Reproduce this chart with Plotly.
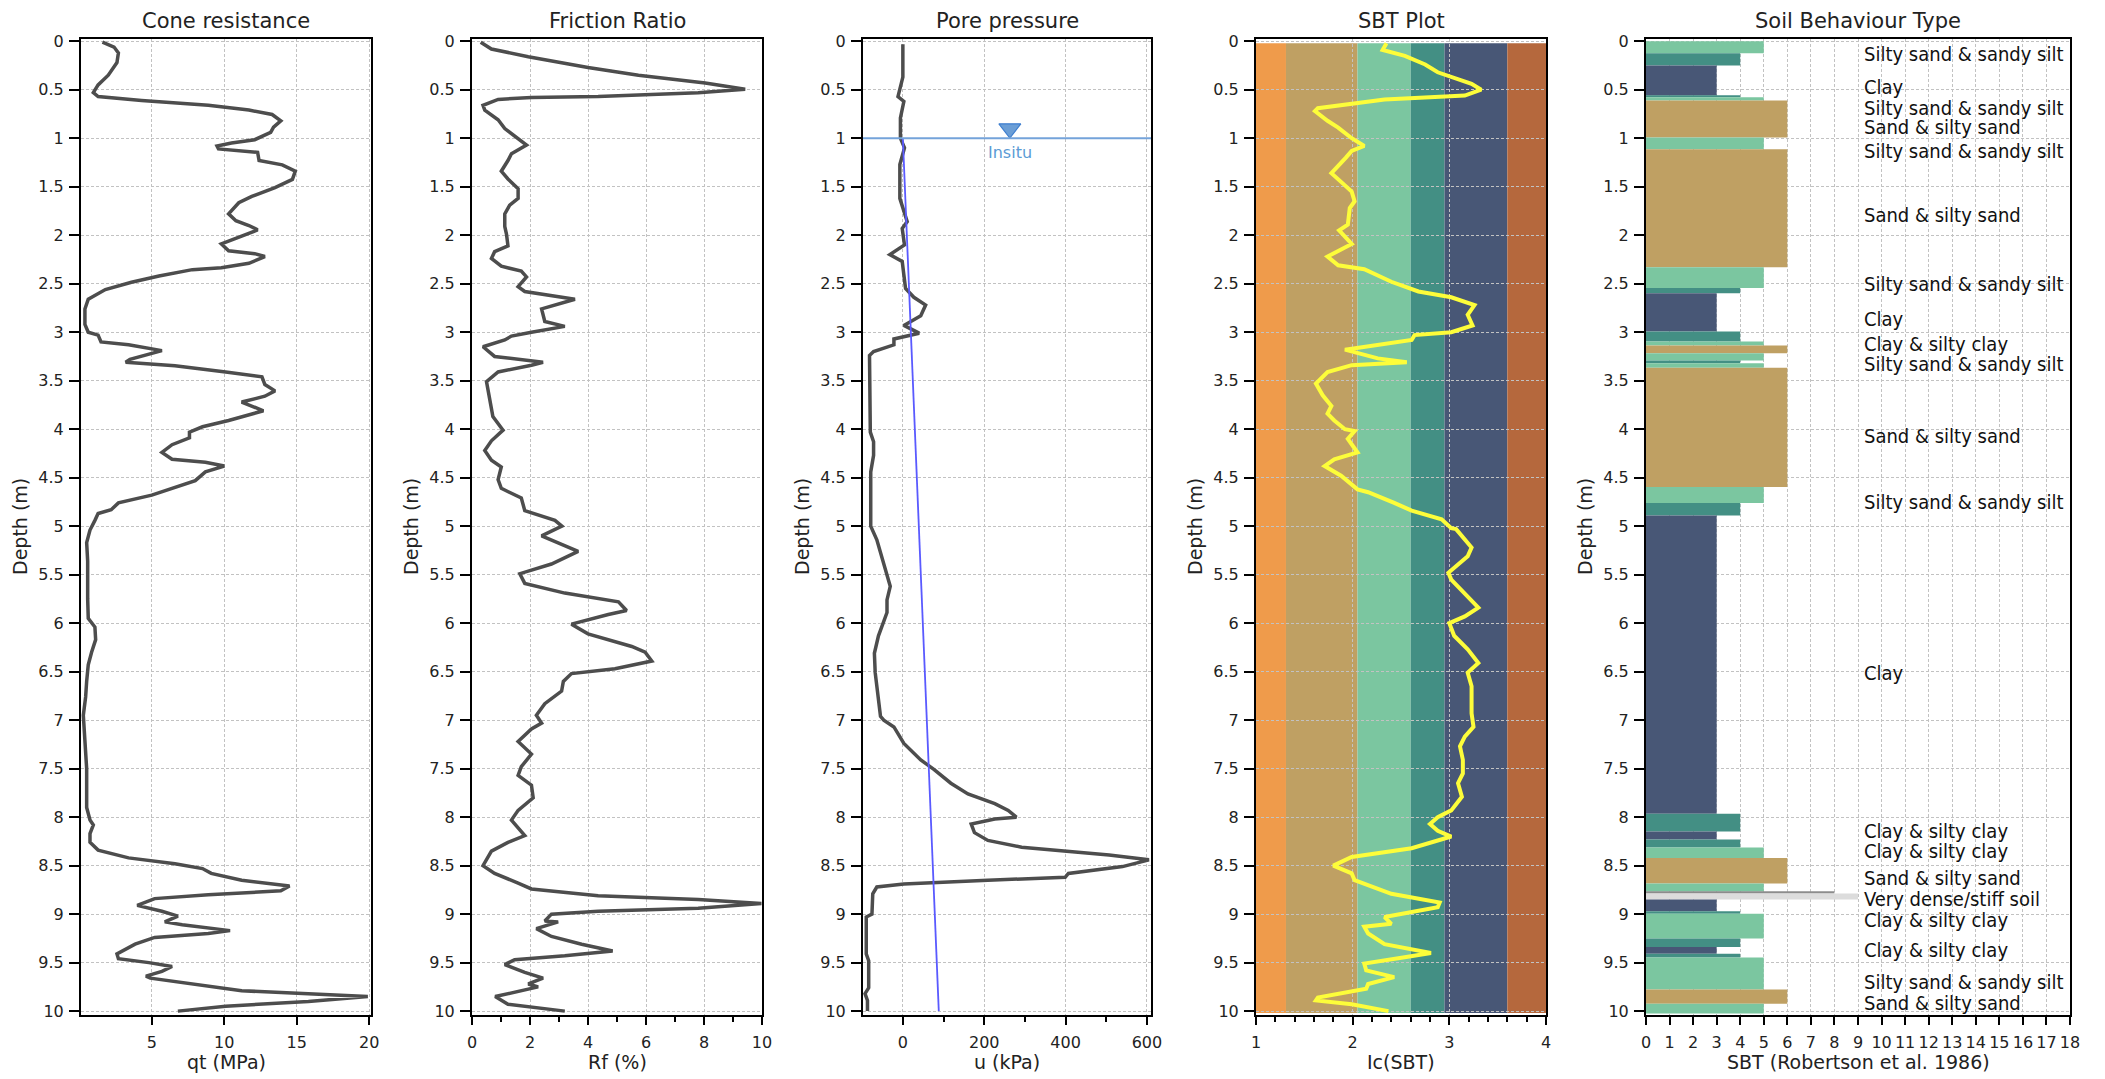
import plotly.graph_objects as go

# ---------------- data ----------------
depth_ticks = [0, 0.5, 1, 1.5, 2, 2.5, 3, 3.5, 4, 4.5, 5, 5.5, 6, 6.5, 7, 7.5, 8, 8.5, 9, 9.5, 10]
depth_tick_text = ["0", "0.5", "1", "1.5", "2", "2.5", "3", "3.5", "4", "4.5", "5", "5.5",
                   "6", "6.5", "7", "7.5", "8", "8.5", "9", "9.5", "10"]

qt_depth = [0.01, 0.06, 0.12, 0.22, 0.35, 0.45, 0.53, 0.57, 0.61, 0.66, 0.71, 0.755, 0.82, 0.885, 0.94,
            1.015, 1.05, 1.08, 1.11, 1.145, 1.23, 1.275, 1.34, 1.425, 1.51, 1.6, 1.665, 1.73, 1.78, 1.85,
            1.9, 1.945, 2.01, 2.09, 2.16, 2.19, 2.22, 2.29, 2.335, 2.355, 2.42, 2.485, 2.56, 2.66, 2.76,
            2.92, 3.0, 3.03, 3.1, 3.13, 3.19, 3.28, 3.31, 3.345, 3.41, 3.46, 3.54, 3.605, 3.66, 3.72,
            3.81, 3.91, 3.975, 4.03, 4.09, 4.16, 4.24, 4.31, 4.34, 4.38, 4.44, 4.53, 4.68, 4.76, 4.83,
            4.87, 4.94, 5.04, 5.17, 5.36, 5.75, 5.95, 6.04, 6.17, 6.3, 6.43, 6.6, 6.76, 6.95, 7.18,
            7.5, 7.9, 8.03, 8.08, 8.17, 8.26, 8.34, 8.42, 8.48, 8.53, 8.58, 8.65, 8.71, 8.76, 8.8,
            8.84, 8.91, 8.97, 9.02, 9.08, 9.11, 9.17, 9.2, 9.24, 9.31, 9.41, 9.46, 9.5, 9.54, 9.59,
            9.64, 9.66, 9.72, 9.79, 9.82, 9.85, 9.9, 9.95, 10.0]
qt_mpa = [1.6, 2.4, 2.7, 2.6, 2.0, 1.3, 0.97, 1.3, 4.3, 8.9, 11.7, 13.3, 13.9, 13.4, 13.2,
          12.1, 10.5, 9.5, 9.6, 12.3, 12.4, 14.0, 14.9, 14.7, 13.5, 11.9, 11.0, 10.6, 10.3, 10.8,
          11.7, 12.3, 11.2, 9.8, 10.3, 12.1, 12.8, 11.7, 9.8, 7.8, 5.5, 3.6, 1.8, 0.62, 0.39,
          0.39, 0.62, 1.3, 1.5, 3.4, 5.7, 3.5, 3.2, 6.6, 10.1, 12.6, 12.8, 13.5, 12.8, 11.2,
          12.7, 10.3, 8.5, 7.6, 7.6, 6.4, 5.7, 6.4, 8.7, 10.0, 8.7, 8.0, 5.0, 2.7, 2.2,
          1.3, 1.08, 0.74, 0.51, 0.58, 0.58, 0.62, 1.08, 1.13, 0.85, 0.62, 0.51, 0.44, 0.28, 0.39,
          0.51, 0.51, 0.74, 0.97, 0.74, 0.74, 1.3, 3.4, 6.6, 8.5, 9.1, 11.2, 14.5, 13.9, 8.9,
          5.2, 4.0, 5.7, 6.8, 5.9, 7.1, 10.4, 8.9, 5.2, 3.85, 2.6, 2.7, 4.8, 6.4, 5.7,
          4.6, 4.9, 7.8, 11.2, 15.8, 19.9, 15.8, 10.1, 6.8]

rf_depth = [0.01, 0.08, 0.16, 0.21, 0.27, 0.35, 0.43, 0.495, 0.53, 0.57, 0.58, 0.6, 0.66, 0.71, 0.81,
            0.9, 1.0, 1.07, 1.16, 1.23, 1.34, 1.42, 1.52, 1.62, 1.69, 1.78, 1.91, 1.99, 2.11, 2.17,
            2.24, 2.32, 2.37, 2.43, 2.53, 2.58, 2.66, 2.76, 2.89, 2.94, 3.0, 3.04, 3.08, 3.15, 3.25,
            3.29, 3.31, 3.34, 3.41, 3.51, 3.67, 3.87, 4.01, 4.12, 4.22, 4.32, 4.39, 4.52, 4.61, 4.71,
            4.84, 4.94, 5.0, 5.1, 5.26, 5.39, 5.49, 5.59, 5.69, 5.78, 5.87, 5.91, 6.01, 6.11, 6.24,
            6.3, 6.39, 6.47, 6.52, 6.6, 6.7, 6.83, 6.95, 7.03, 7.09, 7.22, 7.35, 7.48, 7.57, 7.67,
            7.8, 7.93, 8.03, 8.19, 8.26, 8.35, 8.5, 8.58, 8.68, 8.74, 8.81, 8.85, 8.89, 8.94, 8.97,
            9.0, 9.07, 9.08, 9.15, 9.23, 9.31, 9.38, 9.43, 9.47, 9.52, 9.6, 9.66, 9.72, 9.75, 9.8,
            9.85, 9.93, 10.0]
rf_pct = [0.3, 0.67, 1.94, 2.86, 4.0, 5.74, 8.04, 9.42, 7.8, 4.35, 2.05, 0.9, 0.38, 0.44, 0.9,
          1.13, 1.59, 1.88, 1.36, 1.24, 1.01, 1.24, 1.59, 1.59, 1.3, 1.13, 1.13, 1.19, 1.24, 0.78,
          0.67, 1.01, 1.7, 1.88, 1.59, 1.82, 3.55, 2.4, 2.51, 3.2, 2.05, 1.36, 1.13, 0.38, 0.78,
          1.82, 2.45, 2.05, 0.9, 0.5, 0.61, 0.72, 1.07, 0.67, 0.44, 0.67, 1.01, 0.9, 1.01, 1.7,
          1.82, 2.86, 3.1, 2.4, 3.66, 2.74, 1.65, 1.82, 3.2, 5.05, 5.33, 4.7, 3.43, 4.0, 5.51,
          5.97, 6.2, 4.93, 3.43, 3.15, 3.09, 2.51, 2.22, 2.4, 2.05, 1.59, 2.05, 1.7, 1.59, 2.05,
          2.11, 1.59, 1.36, 1.82, 1.24, 0.67, 0.38, 0.78, 1.59, 2.05, 4.35, 7.8, 9.98, 7.8, 4.35,
          2.74, 2.51, 2.97, 2.22, 2.74, 3.78, 4.85, 3.2, 1.47, 1.13, 1.82, 2.45, 1.94, 2.28, 1.47,
          0.8, 1.24, 3.2]

u2_depth = [0.03, 0.37, 0.57, 0.62, 0.79, 1.0, 1.1, 1.27, 1.62, 1.86, 1.93, 2.1, 2.2, 2.27, 2.41,
            2.55, 2.64, 2.72, 2.83, 2.93, 3.01, 3.07, 3.13, 3.2, 3.24, 3.69, 4.03, 4.13, 4.27, 4.44,
            5.0, 5.14, 5.34, 5.62, 5.76, 5.89, 6.13, 6.31, 6.51, 6.79, 6.96, 7.0, 7.07, 7.24, 7.41,
            7.51, 7.65, 7.76, 7.86, 7.93, 8.0, 8.02, 8.07, 8.16, 8.24, 8.31, 8.34, 8.39, 8.44, 8.51,
            8.58, 8.62, 8.65, 8.69, 8.72, 8.79, 9.0, 9.03, 9.41, 9.48, 9.76, 9.82, 9.89, 10.0]
u2_kpa = [0, 0, -12, 2.5, -6, -6, 4, -7.4, -7.4, 10.7, -1.6, 4, -32, -1.6, 2.5,
          6.6, 27, 56, 44, 2.5, 40, -22, -22, -72, -82, -82, -80, -72, -72, -79,
          -79, -64, -51, -31, -39, -39, -60, -70, -68, -60, -55, -47, -22, 2.5, 44,
          77, 118, 160, 226, 259, 279, 226, 168, 176, 209, 292, 374, 507, 605, 540,
          407, 399, 209, 2.5, -64, -74, -76, -90, -90, -84, -84, -93, -87, -87]

hydro_depth = [1.0, 10.0]
hydro_u0 = [0.0, 88.3]
water_depth = 1.0
water_marker_u = 263
water_label = "Insitu"

ic_depth = [0.02, 0.09, 0.15, 0.24, 0.32, 0.38, 0.44, 0.5, 0.56, 0.6, 0.69, 0.72, 0.82, 0.89, 1.0,
            1.08, 1.13, 1.2, 1.36, 1.45, 1.55, 1.65, 1.72, 1.89, 1.95, 2.09, 2.22, 2.31, 2.35, 2.48,
            2.58, 2.64, 2.72, 2.82, 2.93, 3.0, 3.03, 3.08, 3.18, 3.27, 3.31, 3.34, 3.41, 3.53, 3.65,
            3.76, 3.84, 3.91, 4.0, 4.02, 4.1, 4.24, 4.31, 4.38, 4.48, 4.62, 4.65, 4.76, 4.84, 4.93,
            5.02, 5.03, 5.22, 5.31, 5.48, 5.55, 5.72, 5.84, 5.93, 6.0, 6.13, 6.27, 6.41, 6.51, 6.65,
            6.93, 7.07, 7.17, 7.27, 7.41, 7.55, 7.65, 7.79, 7.93, 8.0, 8.07, 8.14, 8.2, 8.32, 8.41,
            8.5, 8.58, 8.65, 8.79, 8.88, 8.93, 9.03, 9.1, 9.13, 9.2, 9.31, 9.4, 9.44, 9.51, 9.58,
            9.65, 9.72, 9.77, 9.86, 9.89, 9.93, 10.0]
ic_values = [2.35, 2.31, 2.54, 2.75, 2.88, 3.06, 3.23, 3.33, 3.16, 2.33, 1.64, 1.61, 1.74, 1.85, 1.99,
             2.12, 1.99, 1.93, 1.78, 1.88, 1.99, 2.02, 1.97, 1.95, 1.86, 1.99, 1.74, 1.85, 2.12, 2.4,
             2.68, 3.02, 3.26, 3.19, 3.24, 3.02, 2.64, 2.61, 1.92, 2.26, 2.56, 1.99, 1.74, 1.62, 1.69,
             1.78, 1.74, 1.81, 1.92, 2.02, 1.95, 2.05, 1.81, 1.71, 1.88, 2.05, 2.16, 2.43, 2.61, 2.92,
             3.02, 3.07, 3.23, 3.19, 2.99, 3.02, 3.19, 3.3, 3.16, 3.0, 3.05, 3.19, 3.3, 3.19, 3.23,
             3.23, 3.25, 3.16, 3.11, 3.14, 3.14, 3.09, 3.13, 3.02, 2.88, 2.8, 2.88, 3.02, 2.61, 1.99,
             1.8, 1.99, 2.02, 2.4, 2.9, 2.88, 2.33, 2.4, 2.12, 2.16, 2.33, 2.81, 2.57, 2.12, 2.14,
             2.43, 2.16, 2.14, 1.64, 1.62, 1.99, 2.37]

# Robertson SBT zone boundaries on Ic and their colours
ic_bounds = [1.0, 1.31, 2.05, 2.60, 2.95, 3.60, 4.0]
ic_band_colors = ["#EF9B4B", "#BFA063", "#7BC6A0", "#438F84", "#485776", "#B5683D"]
band_top, band_bottom = 0.02, 10.02

# Soil behaviour type layers (Robertson et al. 1986 zones)
layer_top = [0.000, 0.124, 0.250, 0.560, 0.577, 0.610, 0.993, 1.113, 2.330, 2.543, 2.598, 2.993, 3.095,
             3.137, 3.216, 3.292, 3.319, 3.367, 4.597, 4.762, 4.889, 7.965, 8.147, 8.230, 8.312, 8.422,
             8.683, 8.766, 8.786, 8.848, 8.971, 8.996, 9.250, 9.339, 9.408, 9.446, 9.776, 9.924]
layer_bottom = [0.124, 0.250, 0.560, 0.577, 0.610, 0.993, 1.113, 2.330, 2.543, 2.598, 2.993, 3.095, 3.137,
                3.216, 3.292, 3.319, 3.367, 4.597, 4.762, 4.889, 7.965, 8.147, 8.230, 8.312, 8.422, 8.683,
                8.766, 8.786, 8.848, 8.971, 8.996, 9.250, 9.339, 9.408, 9.446, 9.776, 9.924, 10.025]
layer_zone = [5, 4, 3, 4, 5, 6, 5, 6, 5, 4, 3, 4, 5,
              6, 5, 4, 5, 6, 5, 4, 3, 4, 3, 4, 5, 6,
              5, 8, 9, 3, 4, 5, 4, 3, 4, 5, 6, 5]
zone_colors = {3: "#485776", 4: "#438F84", 5: "#7BC6A0", 6: "#BFA063", 8: "#8C8C8C", 9: "#DCDCDC"}

label_depth = [0.13, 0.467, 0.687, 0.887, 1.134, 1.79, 2.50, 2.862, 3.12, 3.326, 4.075, 4.752, 6.515,
               8.144, 8.354, 8.629, 8.842, 9.065, 9.374, 9.70, 9.918]
label_text = ["Silty sand & sandy silt", "Clay", "Silty sand & sandy silt", "Sand & silty sand",
              "Silty sand & sandy silt", "Sand & silty sand", "Silty sand & sandy silt", "Clay",
              "Clay & silty clay", "Silty sand & sandy silt", "Sand & silty sand",
              "Silty sand & sandy silt", "Clay", "Clay & silty clay", "Clay & silty clay",
              "Sand & silty sand", "Very dense/stiff soil", "Clay & silty clay", "Clay & silty clay",
              "Silty sand & sandy silt", "Sand & silty sand"]
label_x = 9.15

panel_titles = ["Cone resistance", "Friction Ratio", "Pore pressure", "SBT Plot", "Soil Behaviour Type"]
x_titles = ["qt (MPa)", "Rf (%)", "u (kPa)", "Ic(SBT)", "SBT (Robertson et al. 1986)"]

# ---------------- layout ----------------
PAGE_W, PAGE_H = 2105, 1079
OFF = 8  # default page body margin around the figure
W, H = PAGE_W - OFF, PAGE_H - OFF

def px_x(x):
    return (x - OFF) / W

def px_y(y):
    return 1 - (y - OFF) / H

panel_px = [(81, 371), (472, 762), (863, 1151), (1256, 1546), (1646, 2070)]
y_top_px, y_bot_px = 39.3, 1015
ydom = [px_y(y_bot_px), px_y(y_top_px)]
yrange = [10.04, -0.02]

FONT = "DejaVu Sans, Verdana, sans-serif"
NARROW = "Liberation Sans Narrow, Arial Narrow, DejaVu Sans Condensed, sans-serif"
TXT = "#222222"
GRID = "#c2c2c2"
LINE = "#4d4d4d"

fig = go.Figure()

def ax_name(i, kind):
    return kind if i == 0 else f"{kind}{i + 1}"

def ref(i, kind):
    return kind[0] if i == 0 else f"{kind[0]}{i + 1}"

x_specs = [
    dict(range=[0.12, 20.12], tick0=0, dtick=5),
    dict(range=[0, 10], tick0=0, dtick=2,
         minor=dict(ticks="outside", dtick=1, ticklen=5, tickwidth=2, tickcolor="black", showgrid=False)),
    dict(range=[-98, 610], tick0=0, dtick=200,
         minor=dict(ticks="outside", dtick=100, ticklen=5, tickwidth=2, tickcolor="black", showgrid=False)),
    dict(range=[1, 4], tick0=1, dtick=1,
         minor=dict(ticks="outside", dtick=0.2, ticklen=5, tickwidth=2, tickcolor="black", showgrid=False)),
    dict(range=[0, 18], tick0=0, dtick=1),
]

layout = dict(
    width=W, height=H,
    margin=dict(l=0, r=0, t=0, b=0, autoexpand=False),
    paper_bgcolor="white", plot_bgcolor="white",
    showlegend=False,
    font=dict(family=FONT, size=16, color=TXT),
    barmode="overlay",
)
annotations = []
shapes = []
for i, (x0, x1) in enumerate(panel_px):
    xa = dict(domain=[px_x(x0), px_x(x1)], anchor=ref(i, "y"), automargin=False,
              showline=True, linecolor="black", linewidth=2, mirror=True,
              ticks="outside", ticklen=8, tickwidth=2, tickcolor="black",
              showgrid=True, gridcolor=GRID, griddash="3px,2px", gridwidth=1,
              zeroline=False, tickfont=dict(family=FONT, size=16, color=TXT),
              ticklabelstandoff=4, fixedrange=True)
    xa.update(x_specs[i])
    ya = dict(domain=ydom, anchor=ref(i, "x"), range=yrange, automargin=False,
              tickmode="array", tickvals=depth_ticks, ticktext=depth_tick_text,
              showline=True, linecolor="black", linewidth=2, mirror=True,
              ticks="outside", ticklen=10, tickwidth=2, tickcolor="black",
              showgrid=True, gridcolor=GRID, griddash="3px,2px", gridwidth=1,
              zeroline=False, tickfont=dict(family=FONT, size=16, color=TXT),
              ticklabelstandoff=2, fixedrange=True)
    layout[ax_name(i, "xaxis")] = xa
    layout[ax_name(i, "yaxis")] = ya
    cx = px_x((x0 + x1) / 2)
    annotations.append(dict(text=panel_titles[i], xref="paper", yref="paper", x=cx, y=px_y(21),
                            xanchor="center", yanchor="middle", showarrow=False,
                            font=dict(family=FONT, size=21, color=TXT)))
    annotations.append(dict(text=x_titles[i], xref="paper", yref="paper", x=cx, y=px_y(1062),
                            xanchor="center", yanchor="middle", showarrow=False,
                            font=dict(family=FONT, size=19, color=TXT)))
    annotations.append(dict(text="Depth (m)", xref="paper", yref="paper", x=px_x(x0 - 61),
                            y=px_y(527), textangle=-90, xanchor="center", yanchor="middle",
                            showarrow=False, font=dict(family=FONT, size=19, color=TXT)))

# Panel 1-3 curves
fig.add_trace(go.Scatter(x=qt_mpa, y=qt_depth, mode="lines", line=dict(color=LINE, width=3.5),
                         xaxis="x", yaxis="y"))
fig.add_trace(go.Scatter(x=rf_pct, y=rf_depth, mode="lines", line=dict(color=LINE, width=3.5),
                         xaxis="x2", yaxis="y2"))
fig.add_trace(go.Scatter(x=u2_kpa, y=u2_depth, mode="lines", line=dict(color=LINE, width=3.5),
                         xaxis="x3", yaxis="y3"))
fig.add_trace(go.Scatter(x=hydro_u0, y=hydro_depth, mode="lines", line=dict(color="#5a5aff", width=1.8),
                         xaxis="x3", yaxis="y3"))
# water table
shapes.append(dict(type="line", xref="x3 domain", yref="y3", x0=0, x1=1, y0=water_depth, y1=water_depth,
                   line=dict(color="#74a3da", width=2), layer="above"))
fig.add_trace(go.Scatter(x=[water_marker_u], y=[water_depth - 0.1], mode="markers",
                         marker=dict(symbol="triangle-down", size=19, color="#6b9ed6",
                                     line=dict(color="#3f7fcf", width=1.2)),
                         xaxis="x3", yaxis="y3"))
annotations.append(dict(text=water_label, xref="x3", yref="y3", x=water_marker_u, y=water_depth,
                        xanchor="center", yanchor="top", yshift=-3, showarrow=False,
                        font=dict(family=FONT, size=16, color="#5b9bd5")))

# Panel 4: SBT bands + Ic curve
for k in range(len(ic_band_colors)):
    shapes.append(dict(type="rect", xref="x4", yref="y4", x0=ic_bounds[k], x1=ic_bounds[k + 1],
                       y0=band_top, y1=band_bottom, fillcolor=ic_band_colors[k],
                       line=dict(width=0), layer="below"))
fig.add_trace(go.Scatter(x=ic_values, y=ic_depth, mode="lines", line=dict(color="#fdfd3a", width=4),
                         xaxis="x4", yaxis="y4"))

# Panel 5: SBT layers
mids = [(t + b) / 2 for t, b in zip(layer_top, layer_bottom)]
thick = [b - t for t, b in zip(layer_top, layer_bottom)]
fig.add_trace(go.Bar(orientation="h", x=layer_zone, y=mids, width=thick, base=0,
                     marker=dict(color=[zone_colors[z] for z in layer_zone], line=dict(width=0)),
                     xaxis="x5", yaxis="y5"))
for d, t in zip(label_depth, label_text):
    annotations.append(dict(text=t, xref="x5", yref="y5", x=label_x, y=d, xanchor="left",
                            yanchor="middle", showarrow=False,
                            font=dict(family=NARROW, size=20, color="#111111")))

layout["annotations"] = annotations
layout["shapes"] = shapes
fig.update_layout(**layout)
fig.write_html("out.html")
